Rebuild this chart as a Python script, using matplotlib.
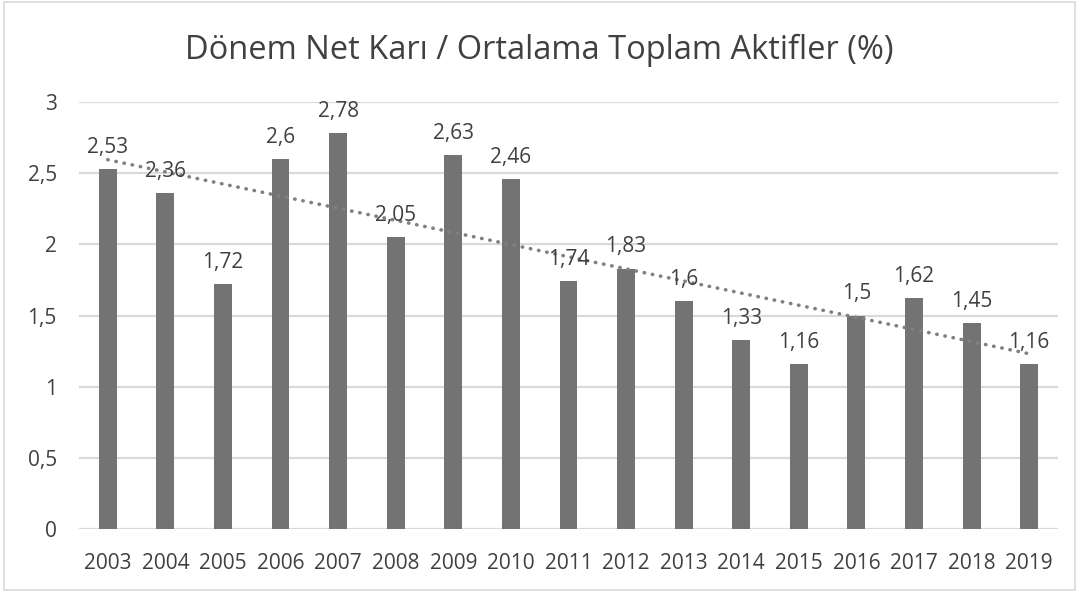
import numpy as np
import matplotlib.pyplot as plt
from matplotlib.patches import Rectangle

years = ["2003", "2004", "2005", "2006", "2007", "2008", "2009", "2010", "2011",
         "2012", "2013", "2014", "2015", "2016", "2017", "2018", "2019"]
values = [2.53, 2.36, 1.72, 2.6, 2.78, 2.05, 2.63, 2.46, 1.74,
          1.83, 1.6, 1.33, 1.16, 1.5, 1.62, 1.45, 1.16]
yticks = [0, 0.5, 1, 1.5, 2, 2.5, 3]


def tr(v):
    # Turkish decimal comma
    return ("%g" % v).replace(".", ",")


plt.rcParams["font.family"] = ["Open Sans", "DejaVu Sans"]

fig = plt.figure(figsize=(10.79, 5.92), dpi=100)
ax = fig.add_axes([0.0732, 0.1064, 0.9073, 0.7213])

x = np.arange(len(years))
ax.bar(x, values, width=0.31, color="#737373", zorder=2)

# linear trendline
k, b = np.polyfit(x, values, 1)
ax.plot(x, k * x + b, color="#808080", linestyle=(0, (0.1, 2.2)), linewidth=2.6,
        dash_capstyle="round", zorder=3)

for xi, v in zip(x, values):
    ax.annotate(tr(v), (xi, v), xytext=(0, 8), textcoords="offset points",
                ha="center", va="bottom", fontsize=15, color="#404040", zorder=4)

ax.set_xlim(-0.5, len(years) - 0.5)
ax.set_ylim(0, 3)
ax.set_yticks(yticks)
ax.set_yticklabels([tr(t) for t in yticks])
ax.set_xticks(x)
ax.set_xticklabels(years)
ax.tick_params(axis="both", length=0, labelsize=15, labelcolor="#404040")
ax.tick_params(axis="y", pad=16)
ax.tick_params(axis="x", pad=17)
ax.grid(axis="y", color="#d9d9d9", linewidth=1.6, zorder=0)
for s in ax.spines.values():
    s.set_visible(False)

fig.text(0.5, 0.915, "Dönem Net Karı / Ortalama Toplam Aktifler (%)",
         ha="center", va="center", fontsize=23.5, color="#404040")

fig.patches.append(Rectangle((0.004, 0.004), 0.992, 0.992, transform=fig.transFigure,
                             fill=False, edgecolor="#d9d9d9", linewidth=1.2))

fig.savefig("out.png", dpi=100)
